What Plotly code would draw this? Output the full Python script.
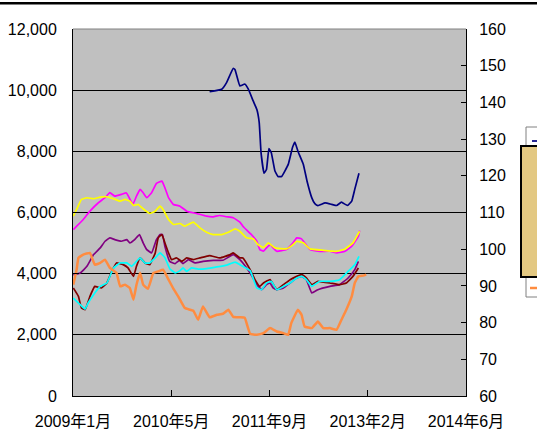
import pandas as pd
import plotly.graph_objects as go

# ---------------- data (time in months since 2009-01-01) ----------------
x_tick_labels = ["2009年1月", "2010年5月", "2011年9月", "2013年2月", "2014年6月"]

navy_m = [22.6, 24.6, 25.4, 26.5, 26.8, 27.6, 28.4, 29.0, 29.8, 30.4, 30.8, 31.1, 31.6, 32.0, 32.4, 32.8, 33.4, 33.9,
          34.5, 35.6, 36.3, 36.7, 37.2, 38.1, 38.7, 39.5, 40.0, 40.5, 41.7, 42.8, 43.6, 44.4, 45.4, 46.1, 46.6, 47.3]
navy_v = [142.9, 143.6, 145.4, 149.3, 148.9, 144.5, 145.0, 143.6, 140.4, 138.1, 134.5, 126.3, 120.7, 121.7, 127.4,
          126.3, 121.3, 119.8, 119.8, 123.1, 127.7, 129.2, 126.7, 123.1, 118.6, 114.0, 112.4, 111.9, 112.6, 112.2,
          111.9, 112.8, 111.9, 113.1, 116.3, 120.7]

mag_m = [0.05, 1.7, 2.8, 4.2, 5.3, 6.1, 6.9, 8.0, 8.8, 9.3, 9.9, 10.5, 11.1, 11.6, 12.2, 13.0, 13.8, 14.7, 15.2, 15.8,
         16.6, 17.7, 18.8, 20.4, 22.1, 23.2, 24.2, 25.4, 26.5, 27.6, 28.1, 29.5, 30.4, 30.9, 31.5, 32.0, 32.6, 33.1,
         33.7, 35.3, 36.4, 37.0, 37.8, 39.2, 40.8, 42.5, 43.6, 45.0, 46.1, 47.2, 47.4]
mag_v = [5443, 5771, 6043, 6319, 6483, 6647, 6535, 6591, 6647, 6483, 6263, 6535, 6755, 6647, 6483, 6647, 6951, 7027,
         6811, 6483, 6263, 6207, 6043, 5968, 5879, 5860, 5902, 5860, 5827, 5683, 5551, 5279, 5060, 4787, 4732, 4843,
         4951, 4843, 4732, 4787, 5007, 5171, 5138, 4787, 4732, 4732, 4679, 4732, 4896, 5223, 5410]

yel_m = [0.05, 0.6, 1.4, 2.3, 3.4, 4.5, 5.6, 6.7, 7.8, 8.6, 9.4, 10.0, 10.8, 11.6, 12.7, 13.6, 14.4, 14.9, 15.8, 16.6,
         17.7, 18.5, 19.9, 21.0, 22.1, 23.2, 24.6, 25.7, 26.8, 27.6, 28.7, 29.8, 30.6, 31.5, 32.3, 33.4, 35.3, 36.4,
         37.0, 38.1, 39.2, 41.4, 43.6, 45.0, 46.3, 47.4]
yel_v = [5879, 6099, 6427, 6483, 6450, 6502, 6516, 6450, 6371, 6427, 6371, 6230, 6263, 6122, 5968, 6043, 6207, 6099,
         5771, 5607, 5640, 5551, 5683, 5499, 5355, 5279, 5279, 5355, 5466, 5387, 5171, 5138, 4951, 4853, 5007, 4843,
         4810, 4951, 5060, 5007, 4810, 4764, 4732, 4810, 5007, 5387]

pur_m = [0.05, 1.2, 2.3, 3.4, 4.5, 5.3, 6.1, 6.9, 8.0, 8.9, 9.4, 10.2, 11.0, 11.6, 12.2, 13.0, 13.8, 14.4, 14.8, 15.2,
         16.0, 16.9, 17.6, 18.2, 19.1, 20.2, 21.5, 23.2, 24.8, 26.5, 27.6, 28.1, 29.3, 30.4, 31.2, 32.0, 32.6, 33.1,
         33.7, 34.8, 35.9, 37.0, 37.8, 38.6, 39.5, 40.5, 42.5, 44.1, 45.5, 46.6, 47.2]
pur_v = [3968, 4023, 4240, 4623, 4843, 5060, 5171, 5115, 5060, 5115, 5007, 5115, 5279, 5007, 4787, 4679, 5115, 5279,
         5279, 4896, 4404, 4328, 4437, 4328, 4459, 4351, 4404, 4437, 4437, 4623, 4459, 4351, 4023, 3640, 3476, 3640,
         3695, 3532, 3476, 3532, 3695, 3859, 3912, 3804, 3368, 3476, 3584, 3640, 3859, 4132, 4404]

mar_m = [0.05, 0.9, 1.4, 2.0, 2.8, 3.6, 4.7, 5.6, 6.4, 7.2, 8.3, 9.1, 10.0, 10.5, 11.1, 11.9, 12.7, 13.6, 14.1, 14.7,
         15.2, 15.8, 16.3, 17.1, 18.0, 18.8, 19.9, 21.0, 22.6, 24.3, 26.0, 26.5, 27.6, 28.1, 29.3, 30.1, 30.9, 31.5,
         32.6, 33.7, 34.8, 35.9, 37.0, 37.8, 38.6, 39.5, 40.5, 42.5, 44.1, 45.2, 46.3, 47.2]
mar_v = [3532, 3256, 2876, 2820, 3256, 3584, 3532, 3695, 4076, 4351, 4295, 4187, 3912, 4240, 4515, 4351, 4295, 4679,
         5171, 5279, 5007, 4679, 4459, 4515, 4404, 4515, 4459, 4515, 4591, 4515, 4623, 4679, 4515, 4515, 4132, 3804,
         3584, 3695, 3804, 3476, 3640, 3804, 3912, 3968, 3859, 3640, 3748, 3695, 3640, 3695, 3912, 4187]

cya_m = [0.05, 1.2, 2.0, 2.5, 3.4, 4.5, 5.6, 6.7, 7.8, 8.9, 9.7, 10.5, 11.1, 11.9, 12.7, 13.6, 14.4, 15.2, 16.0, 16.9,
         17.7, 18.2, 18.8, 19.6, 20.7, 22.1, 23.8, 25.4, 26.8, 27.6, 29.3, 30.4, 31.2, 32.0, 32.8, 33.7, 34.8, 35.9,
         37.0, 37.8, 38.6, 39.5, 40.8, 42.5, 44.1, 45.5, 46.6, 47.3]
cya_v = [3204, 2984, 2843, 3040, 3312, 3584, 3695, 4187, 4351, 4351, 4240, 4404, 4515, 4351, 4351, 4515, 4679, 4525,
         4164, 4023, 4099, 4187, 4076, 4187, 4148, 4164, 4220, 4279, 4377, 4295, 4099, 3532, 3476, 3695, 3748, 3476,
         3584, 3695, 3859, 3912, 3804, 3584, 3748, 3748, 3804, 4076, 4295, 4568]

org_m = [0.05, 0.6, 0.9, 1.7, 2.8, 3.6, 4.5, 5.3, 6.1, 7.2, 7.8, 8.6, 9.4, 10.0, 10.5, 11.1, 11.6, 12.4, 13.3, 14.1,
         14.9, 15.8, 16.6, 17.4, 18.5, 19.9, 20.7, 21.5, 22.6, 23.8, 24.8, 25.7, 26.5, 27.6, 28.4, 29.3, 30.4, 31.5,
         32.6, 33.7, 34.8, 35.6, 36.1, 37.2, 37.8, 38.3, 39.5, 40.5, 41.4, 42.5, 43.6, 44.4, 45.2, 46.1, 46.6, 47.2,
         48.0, 48.5]
org_v = [3640, 4132, 4515, 4623, 4679, 4295, 4351, 4459, 4187, 4023, 3584, 3640, 3532, 3148, 3640, 4033, 3640, 3509,
         4023, 4076, 4132, 3804, 3509, 3256, 2876, 2787, 2492, 2928, 2574, 2656, 2689, 2820, 2590, 2574, 2558, 2033,
         2000, 2056, 2220, 2108, 2056, 2000, 2384, 2820, 2656, 2272, 2220, 2436, 2220, 2220, 2164, 2492, 2820, 3256,
         3695, 3912, 3935, 3968]

# ---------------- helpers ----------------
BASE = pd.Timestamp("2009-01-01")
SPAN_MONTHS = 65.0


def to_dates(months):
    return [BASE + pd.to_timedelta(m * 30.4375, unit="D") for m in months]


x_end = BASE + pd.to_timedelta(SPAN_MONTHS * 30.4375, unit="D")
tick_dates = [BASE + (x_end - BASE) * k / 4 for k in range(5)]

FONT = "Liberation Sans, Arial, Noto Sans CJK JP, sans-serif"

fig = go.Figure()
series = [
    ("Series 1", navy_m, navy_v, "#000080", 1.7, "y2"),
    ("Series 2", mag_m, mag_v, "#ff00ff", 1.7, "y"),
    ("Series 3", yel_m, yel_v, "#ffff00", 1.7, "y"),
    ("Series 4", pur_m, pur_v, "#800080", 1.7, "y"),
    ("Series 5", mar_m, mar_v, "#800000", 1.7, "y"),
    ("Series 6", cya_m, cya_v, "#00ffff", 1.7, "y"),
    ("Series 7", org_m, org_v, "#ff8c40", 2.5, "y"),
]
for name, m, v, col, w, ax in series:
    fig.add_trace(go.Scatter(x=to_dates(m), y=v, mode="lines", name=name, yaxis=ax,
                             line=dict(color=col, width=w, shape="spline", smoothing=0.3),
                             showlegend=False, hoverinfo="skip"))

# ---------------- layout geometry (pixels) ----------------
W, H = 537, 437
L, R, T, B = 73, 466, 29, 396
PW, PH = R - L, B - T


def px(xp):
    return (xp - L) / PW


def py(yp):
    return (B - yp) / PH


shapes = [
    # top border of plot area (gray)
    dict(type="line", xref="paper", yref="paper", x0=0, x1=1, y0=1, y1=1,
         line=dict(color="#808080", width=1), layer="above"),
    # chart top border line
    dict(type="rect", xref="paper", yref="paper", x0=px(-5), x1=px(W + 5), y0=py(4.5), y1=py(2),
         fillcolor="#000000", line=dict(width=0), layer="above"),
    # legend box (cut off at the right edge)
    dict(type="rect", xref="paper", yref="paper", x0=px(526), x1=px(W + 20), y0=py(297), y1=py(127),
         fillcolor="#ffffff", line=dict(color="#808080", width=1)),
    dict(type="line", xref="paper", yref="paper", x0=px(532), x1=px(W + 10), y0=py(141), y1=py(141),
         line=dict(color="#000080", width=1.7)),
    dict(type="line", xref="paper", yref="paper", x0=px(530), x1=px(W + 10), y0=py(288), y1=py(288),
         line=dict(color="#ff8c40", width=2.5)),
    # beige text box overlapping legend
    dict(type="rect", xref="paper", yref="paper", x0=px(521), x1=px(W + 20), y0=py(277), y1=py(146),
         fillcolor="#e3c882", line=dict(color="#000000", width=2)),
]

fig.update_layout(
    width=W, height=H,
    margin=dict(l=L, r=W - R, t=T, b=H - B, pad=0, autoexpand=False),
    paper_bgcolor="#ffffff",
    plot_bgcolor="#c0c0c0",
    font=dict(family=FONT, size=16, color="#000000"),
    showlegend=False,
    shapes=shapes,
    xaxis=dict(
        type="date", range=[BASE, x_end], tickmode="array", tickvals=tick_dates, ticktext=x_tick_labels,
        showgrid=False, zeroline=False, showline=True, linecolor="#000000", linewidth=1, automargin=False,
        ticks="inside", ticklen=6, tickcolor="#000000", ticklabelstandoff=11,
        tickfont=dict(family=FONT, size=16),
    ),
    yaxis=dict(
        range=[0, 12000], tickmode="linear", tick0=0, dtick=2000, tickformat=",d", automargin=False,
        showgrid=True, gridcolor="#000000", gridwidth=1, zeroline=False,
        showline=True, linecolor="#000000", linewidth=1,
        ticks="inside", ticklen=6, tickcolor="#000000", ticklabelstandoff=12,
        tickfont=dict(family=FONT, size=16),
    ),
    yaxis2=dict(
        range=[60, 160], tickmode="linear", tick0=60, dtick=10, overlaying="y", side="right", automargin=False,
        showgrid=False, zeroline=False, showline=True, linecolor="#000000", linewidth=1,
        ticks="inside", ticklen=5, tickcolor="#000000", ticklabelstandoff=9,
        tickfont=dict(family=FONT, size=16),
    ),
)

fig.write_html("out.html", config={"displayModeBar": False},
               post_script="document.body.style.margin='0';document.body.style.overflow='hidden';")
